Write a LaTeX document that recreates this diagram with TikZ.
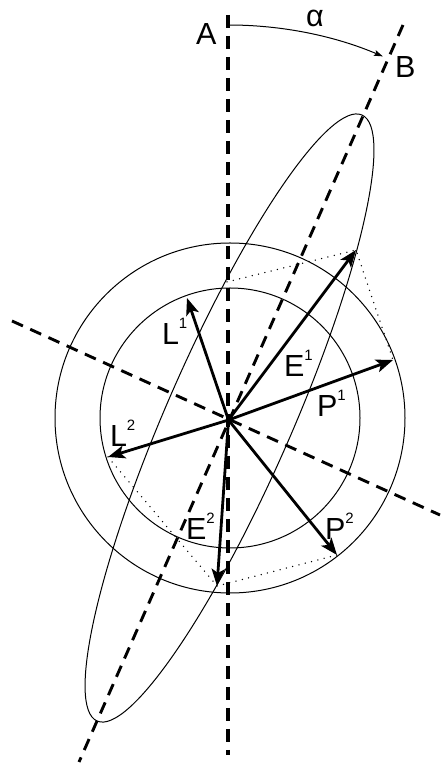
\documentclass[tikz,border=0pt]{standalone}
\usepackage{fontspec}
\setmainfont{Liberation Sans}
\usetikzlibrary{arrows.meta}
\newcommand{\supnum}[1]{\raisebox{16pt}{\fontsize{15}{15}\selectfont #1}}
\begin{document}
\begin{tikzpicture}[x=1pt,y=1pt,
  axisv/.style={line width=3.5pt, dash pattern=on 13pt off 8pt},
  axisd/.style={line width=2.9pt, dash pattern=on 12pt off 8pt},
  thinline/.style={line width=1pt},
  vec/.style={line width=2.8pt, -{Stealth[length=17pt,width=13pt,inset=4pt]}},
  dotline/.style={line width=1.5pt, dash pattern=on 0pt off 6.5pt, line cap=round},
  lbl/.style={anchor=base west, inner sep=0pt, outer sep=0pt, font=\fontsize{30.5}{30.5}\selectfont}
]
\useasboundingbox (0,0) rectangle (441,763);
% key points
\coordinate (O) at (228.5,343);
\coordinate (C) at (230,345);
\coordinate (Ce) at (229.5,345);
\coordinate (Vt) at (228,748);
\coordinate (Vb) at (228,8);
\coordinate (Bt) at (403,738);
\coordinate (Bb) at (79,1);
\coordinate (Pl) at (12,442);
\coordinate (Pr) at (440,248);
\coordinate (tL1) at (187,465);
\coordinate (tE1) at (356,513);
\coordinate (tP1) at (393,403);
\coordinate (tL2) at (108,306);
\coordinate (tE2) at (217,177);
\coordinate (tP2) at (337,208);
\coordinate (Dt) at (227,481);
\coordinate (Arc0) at (228.5,738);
% circles and ellipse
\draw[thinline] (C) circle[radius=130];
\draw[thinline] (C) circle[radius=175];
\draw[thinline, rotate around={66.4:(Ce)}] (Ce) ellipse[x radius=330.7, y radius=63];
% dotted contour
\draw[dotline] (Dt) -- (tE1) -- (tP1);
\draw[dotline] (tL2) -- (tE2) -- (tP2);
% axes
\draw[axisv] (Vt) -- (Vb);
\draw[axisd] (Bt) -- (Bb);
\draw[axisd] (Pl) -- (Pr);
% angle arc
\draw[thinline, -{Stealth[length=9pt,width=6pt,inset=2pt]}] (Arc0) arc[start angle=90, end angle=67, radius=395];
% vectors
\draw[vec] (O) -- (tL1);
\draw[vec] (O) -- (tE1);
\draw[vec] (O) -- (tP1);
\draw[vec] (O) -- (tL2);
\draw[vec] (O) -- (tE2);
\draw[vec] (O) -- (tP2);
% labels
\node[lbl] (lA) at (196,718) {A};
\node[lbl] (lal) at (306,736) {α};
\node[lbl] (lB) at (395,685) {B};
\node[lbl] (lL1) at (162,418) {L\supnum{1}};
\node[lbl] (lE1) at (284,386) {E\supnum{1}};
\node[lbl] (lP1) at (317,346) {P\supnum{1}};
\node[lbl] (lL2) at (110,316) {L\supnum{2}};
\node[lbl] (lE2) at (186,223) {E\supnum{2}};
\node[lbl] (lP2) at (325,223) {P\supnum{2}};
\end{tikzpicture}
\end{document}
